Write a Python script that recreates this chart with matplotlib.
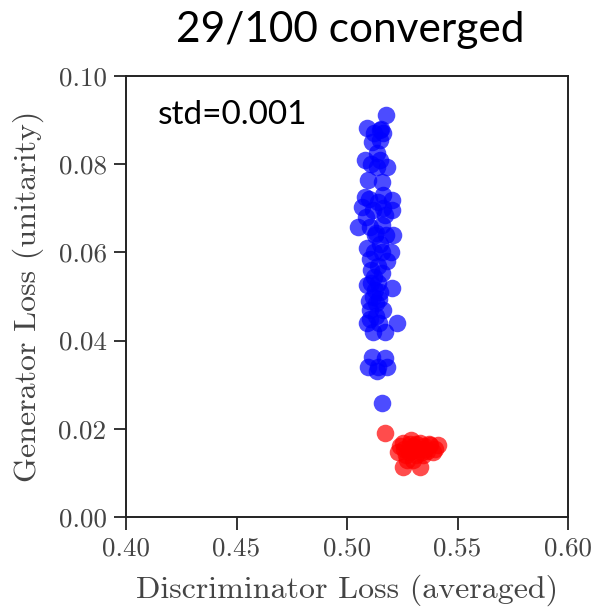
import matplotlib
matplotlib.use("Agg")
import matplotlib.pyplot as plt

plt.rcParams['font.family'] = 'cmr10'
plt.rcParams['mathtext.fontset'] = 'cm'
plt.rcParams['axes.formatter.use_mathtext'] = True

title = "29/100 converged"
annotation = "std=0.001"
xlabel = "Discriminator Loss (averaged)"
ylabel = "Generator Loss (unitarity)"
xticks = [0.40, 0.45, 0.50, 0.55, 0.60]
yticks = [0.00, 0.02, 0.04, 0.06, 0.08, 0.10]

blue_x = [0.5176, 0.5090, 0.5150, 0.5163, 0.5113, 0.5150, 0.5081, 0.5136, 0.5136, 0.5180,
          0.5150, 0.5110, 0.5081, 0.5163, 0.5204, 0.5070, 0.5118, 0.5163, 0.5204, 0.5140,
          0.5100, 0.5050, 0.5104, 0.5158, 0.5210, 0.5130, 0.5090, 0.5150, 0.5200, 0.5104,
          0.5180, 0.5140, 0.5120, 0.5158, 0.5090, 0.5204, 0.5118, 0.5150, 0.5104, 0.5163,
          0.5090, 0.5226, 0.5118, 0.5170, 0.5130, 0.5140, 0.5120, 0.5130, 0.5113, 0.5172,
          0.5095, 0.5140, 0.5180, 0.5136, 0.5160, 0.5100, 0.5145, 0.5125, 0.5110, 0.5160,
          0.5085, 0.5175, 0.5095, 0.5160, 0.5120, 0.5145, 0.5105, 0.5155, 0.5125, 0.5170,
          0.5110]
blue_y = [0.0912, 0.0882, 0.0878, 0.0871, 0.0850, 0.0855, 0.0810, 0.0825, 0.0794, 0.0794,
          0.0810, 0.0800, 0.0726, 0.0730, 0.0719, 0.0703, 0.0696, 0.0700, 0.0696, 0.0715,
          0.0720, 0.0658, 0.0658, 0.0663, 0.0640, 0.0645, 0.0610, 0.0620, 0.0600, 0.0585,
          0.0580, 0.0570, 0.0600, 0.0553, 0.0526, 0.0520, 0.0500, 0.0510, 0.0470, 0.0470,
          0.0440, 0.0440, 0.0420, 0.0420, 0.0485, 0.0530, 0.0545, 0.0455, 0.0363, 0.0360,
          0.0340, 0.0340, 0.0340, 0.0330, 0.0258, 0.0490, 0.0495, 0.0515, 0.0560, 0.0600,
          0.0680, 0.0640, 0.0765, 0.0760, 0.0870, 0.0440, 0.0450, 0.0880, 0.0640, 0.0685,
          0.0530]

red_x = [0.5172, 0.5253, 0.5290, 0.5330, 0.5376, 0.5412, 0.5230, 0.5280, 0.5340, 0.5390,
         0.5253, 0.5330, 0.5260, 0.5300, 0.5310, 0.5350, 0.5360, 0.5270, 0.5300, 0.5320,
         0.5400, 0.5240, 0.5290, 0.5370, 0.5345, 0.5310, 0.5265, 0.5285, 0.5355]
red_y = [0.0190, 0.0168, 0.0175, 0.0168, 0.0163, 0.0163, 0.0147, 0.0147, 0.0147, 0.0147,
         0.0113, 0.0113, 0.0155, 0.0160, 0.0140, 0.0160, 0.0150, 0.0130, 0.0130, 0.0155,
         0.0155, 0.0160, 0.0150, 0.0165, 0.0140, 0.0165, 0.0140, 0.0165, 0.0155]

fig = plt.figure(figsize=(5.96, 6.08), dpi=100)
ax = fig.add_axes([126/596, 1 - 517/608, (568 - 126)/596, (517 - 76)/608])

ax.scatter(blue_x, blue_y, s=160, color='#0000ff', alpha=0.7, linewidths=0)
ax.scatter(red_x, red_y, s=160, color='#ff0000', alpha=0.7, linewidths=0)

ax.set_xlim(0.40, 0.60)
ax.set_ylim(0.00, 0.10)
ax.set_xticks(xticks)
ax.set_yticks(yticks)
ax.set_xticklabels([f"{v:.2f}" for v in xticks])
ax.set_yticklabels([f"{v:.2f}" for v in yticks])
ax.tick_params(direction='out', length=9, width=1.4, labelsize=19.5, pad=5,
               colors='#333333', labelcolor='#444444')
for sp in ax.spines.values():
    sp.set_linewidth(1.4)
    sp.set_color('#222222')

ax.set_xlabel(xlabel, fontsize=23, color='#444444')
ax.set_ylabel(ylabel, fontsize=23, color='#444444')
ax.yaxis.set_label_coords((28 - 126) / (568 - 126), 0.5)
ax.xaxis.set_label_coords(0.5, -(590 - 517) / (517 - 76))
ax.xaxis.label.set_va('center')
ax.yaxis.label.set_va('center')

ax.text(32 / 442, 1 - (115 - 76) / 441, annotation, transform=ax.transAxes, fontsize=24,
        family='Lato', va='center', ha='left')
fig.text(350/596, 1 - 30/608, title, fontsize=30.5, family='Lato',
         ha='center', va='center')

fig.savefig("out.png", dpi=100)
